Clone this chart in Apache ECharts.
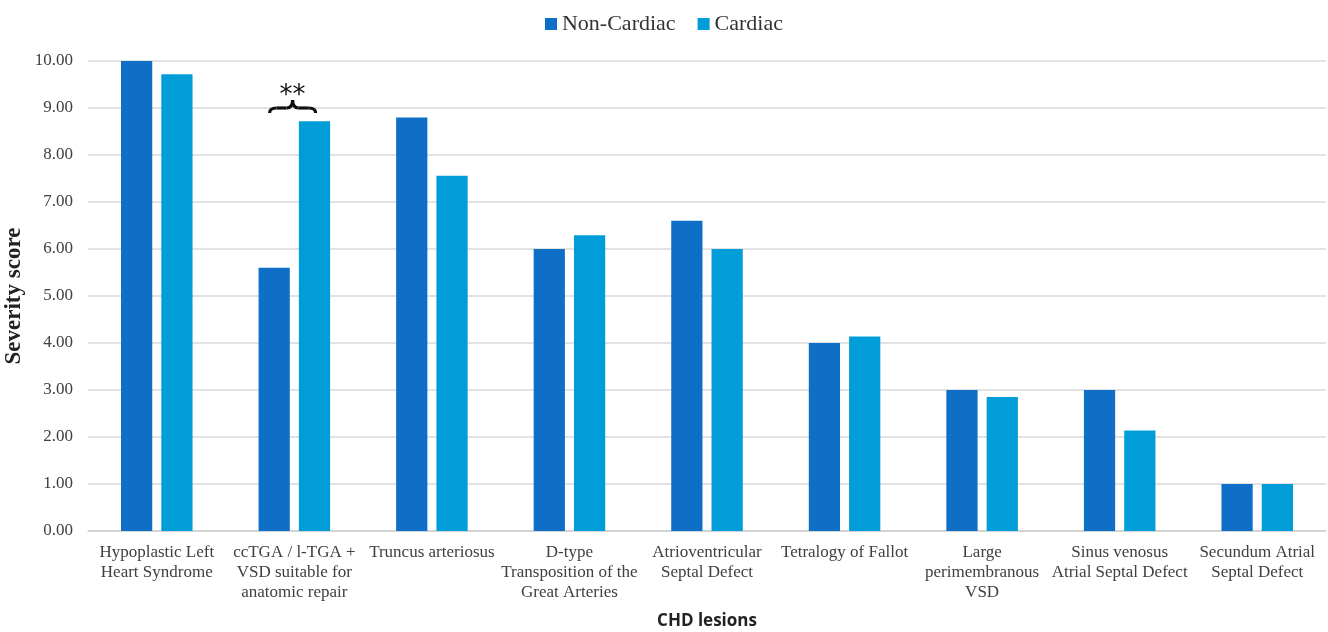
<!DOCTYPE html>
<html>
<head>
<meta charset="utf-8">
<script src="https://cdn.jsdelivr.net/npm/echarts@6/dist/echarts.min.js"></script>
<style>html,body{margin:0;padding:0;background:#fff;overflow:hidden;}#c{width:1328px;height:632px;}</style>
</head>
<body>
<div id="c"></div>
<script>
const categories = [
  "Hypoplastic Left\nHeart Syndrome",
  "ccTGA / l-TGA +\nVSD suitable for\nanatomic repair",
  "Truncus arteriosus",
  "D-type\nTransposition of the\nGreat Arteries",
  "Atrioventricular\nSeptal Defect",
  "Tetralogy of Fallot",
  "Large\nperimembranous\nVSD",
  "Sinus venosus\nAtrial Septal Defect",
  "Secundum Atrial\nSeptal Defect"
];
const nonCardiac = [10.0, 5.6, 8.8, 6.0, 6.6, 4.0, 3.0, 3.0, 1.0];
const cardiac = [9.72, 8.72, 7.56, 6.29, 6.0, 4.14, 2.85, 2.14, 1.0];
const yTicks = { min: 0, max: 10, interval: 1 };
const sigIndex = 1;
const sigLabel = "**";

const serif = '"Liberation Serif", "Times New Roman", serif';
const chart = echarts.init(document.getElementById('c'));
chart.setOption({
  animation: false,
  legend: {
    top: 8, left: 'center',
    itemWidth: 12, itemHeight: 12, itemGap: 22,
    icon: 'rect',
    textStyle: { fontFamily: serif, fontSize: 22, color: '#333' },
    data: ['Non-Cardiac', 'Cardiac']
  },
  grid: { left: 88, right: 2, top: 61, bottom: 101, containLabel: false, outerBoundsMode: 'none' },
  xAxis: {
    type: 'category', data: categories,
    name: 'CHD lesions', nameLocation: 'middle', nameGap: 82, nameMoveOverlap: false,
    nameTextStyle: { fontFamily: '"Open Sans", sans-serif', fontWeight: 'bold', fontSize: 17, color: '#222' },
    axisLine: { lineStyle: { color: '#d0d0d0', width: 1.5 } },
    axisTick: { show: false },
    axisLabel: { interval: 0, fontFamily: serif, fontSize: 17, color: '#404040', lineHeight: 20, margin: 12 }
  },
  yAxis: {
    type: 'value', min: yTicks.min, max: yTicks.max, interval: yTicks.interval,
    name: 'Severity score', nameLocation: 'middle', nameGap: 62, nameMoveOverlap: false,
    nameTextStyle: { fontFamily: serif, fontWeight: 'bold', fontSize: 23, color: '#222' },
    axisLine: { show: false }, axisTick: { show: false },
    axisLabel: { fontFamily: serif, fontSize: 17, color: '#404040', margin: 15, formatter: v => v.toFixed(2) },
    splitLine: { lineStyle: { color: '#d9d9d9', width: 1.5 } }
  },
  series: [
    { name: 'Non-Cardiac', type: 'bar', data: nonCardiac, itemStyle: { color: '#0F6FC6' }, barGap: '29%', barCategoryGap: '48%' },
    { name: 'Cardiac', type: 'bar', data: cardiac, itemStyle: { color: '#009DD9' }, barGap: '29%', barCategoryGap: '48%' }
  ]
});

// significance brace above the ccTGA group
const yb = chart.convertToPixel({ yAxisIndex: 0 }, 9.0);
const cx = chart.convertToPixel({ xAxisIndex: 0 }, categories[sigIndex]);
const bandW = chart.convertToPixel({ xAxisIndex: 0 }, categories[1]) - chart.convertToPixel({ xAxisIndex: 0 }, categories[0]);
const x1 = cx - bandW * 0.18, x2 = cx + bandW * 0.155, xm = (x1 + x2) / 2;
const yl = yb;
const st = { fill: null, stroke: '#111', lineWidth: 3.2 };
chart.setOption({
  graphic: [
    { type: 'bezierCurve', shape: { x1: x1, y1: yl + 5, cpx1: x1, cpy1: yl, x2: x1 + 7, y2: yl }, style: st },
    { type: 'line', shape: { x1: x1 + 7, y1: yl, x2: xm - 6, y2: yl }, style: st },
    { type: 'bezierCurve', shape: { x1: xm - 6, y1: yl, cpx1: xm, cpy1: yl, x2: xm, y2: yl - 8 }, style: st },
    { type: 'bezierCurve', shape: { x1: xm, y1: yl - 8, cpx1: xm, cpy1: yl, x2: xm + 6, y2: yl }, style: st },
    { type: 'line', shape: { x1: xm + 6, y1: yl, x2: x2 - 7, y2: yl }, style: st },
    { type: 'bezierCurve', shape: { x1: x2 - 7, y1: yl, cpx1: x2, cpy1: yl, x2: x2, y2: yl + 5 }, style: st },
    { type: 'text', x: xm, y: yl - 12, style: { text: sigLabel, fontFamily: '"DejaVu Sans", sans-serif', fontSize: 26, fill: '#111', align: 'center', verticalAlign: 'middle' } }
  ]
});
</script>
</body>
</html>
